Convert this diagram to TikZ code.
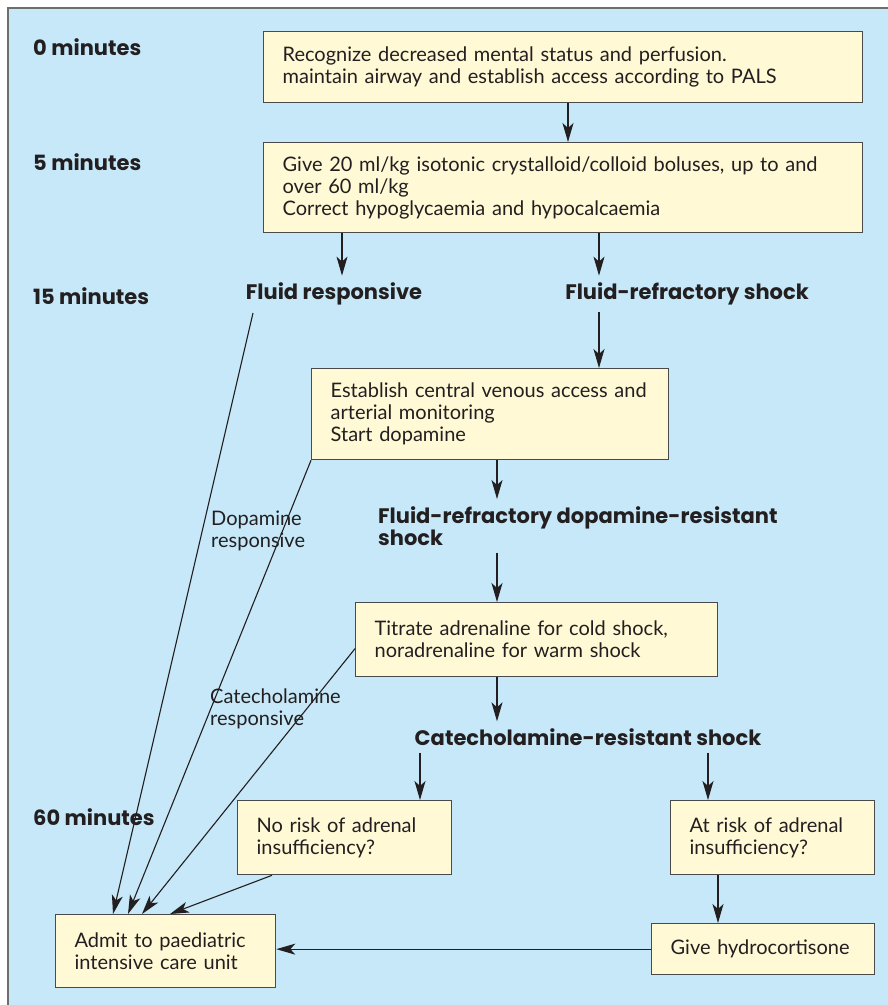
\documentclass[tikz,border=0pt]{standalone}
\usepackage{fontspec}
\setmainfont{Lato}
\newfontfamily\headfont{Poppins}
\usepackage{tikz}
\usetikzlibrary{arrows.meta}
\usetikzlibrary{calc}
\usepackage{xcolor}

\definecolor{bg}{HTML}{C6E8F8}
\definecolor{boxfill}{HTML}{FFF9D6}
\definecolor{boxline}{HTML}{4A4A4A}
\definecolor{ink}{HTML}{231F20}

\begin{document}
\begin{tikzpicture}[
  x=1pt, y=-1pt,
  font=\fontsize{20}{22}\selectfont,
  box/.style={draw=boxline, fill=boxfill, line width=1.3pt, anchor=north west, align=left, inner xsep=19pt, inner ysep=0pt, text=ink},
  head/.style={font=\headfont\bfseries\fontsize{21}{21}\selectfont, text=ink, inner xsep=0pt, inner ysep=7pt},
  time/.style={head, anchor=west},
  note/.style={align=left, anchor=north west, inner sep=0pt, text=ink},
  arrow/.style={-{Stealth[length=19pt, width=11pt, inset=5pt]}, line width=1.1pt, draw=ink},
  link/.style={line width=1.1pt, draw=ink}
]

% Background panel
\useasboundingbox (0,0) rectangle (888,1005);
\fill[bg] (8,8) rectangle (888,1005);
\draw[boxline!80, line width=1.6pt] (8,1005) -- (8,8) -- (888,8);

% Time line
\node[time] (t0) at (33,47) {0 minutes};
\node[time] (t5) at (33,162) {5 minutes};
\node[time] (t15) at (33,296) {15 minutes};
\node[time] (t60) at (33,817) {60 minutes};

% Boxes
\node[box, text width=561pt, minimum height=71pt] (rec) at (263,31) {Recognize decreased mental status and perfusion.\\maintain airway and establish access according to PALS};
\node[box, text width=561pt, minimum height=90pt] (give) at (263,142) {Give 20 ml/kg isotonic crystalloid/colloid boluses, up to and\\over 60 ml/kg\\Correct hypoglycaemia and hypocalcaemia};
\node[box, text width=319pt, minimum height=91pt] (est) at (311,368) {Establish central venous access and\\arterial monitoring\\Start dopamine};
\node[box, text width=324pt, minimum height=74pt] (titr) at (355,602) {Titrate adrenaline for cold shock,\\noradrenaline for warm shock};
\node[box, text width=176pt, minimum height=74pt] (norisk) at (237,800) {No risk of adrenal\\insufficiency?};
\node[box, text width=166pt, minimum height=74pt] (atrisk) at (670,800) {At risk of adrenal\\insufficiency?};
\node[box, text width=185pt, minimum height=51pt] (hydro) at (651,923) {Give hydrocortisone};
\node[box, text width=182pt, minimum height=73pt] (admit) at (55,914) {Admit to paediatric\\intensive care unit};

% Stages
\node[head] (fr) at (334,294) {Fluid responsive};
\node[head] (frs) at (687,294) {Fluid-refractory shock};
\node[head, anchor=north west, align=left] (dres) at (378,499) {Fluid-refractory dopamine-resistant\\shock};
\node[head] (cat) at (588,737) {Catecholamine-resistant shock};

% Side notes
\node[note] (dopok) at (211,511) {Dopamine\\responsive};
\node[note] (catok) at (210,689) {Catecholamine\\responsive};

% Columns for the vertical arrows
\coordinate (xa) at (568,0);
\coordinate (xb) at (342,0);
\coordinate (xc) at (599,0);
\coordinate (xd) at (497,0);
\coordinate (xe) at (420,0);
\coordinate (xf) at (708,0);
\coordinate (xg) at (718,0);

\draw[arrow] (rec.south -| xa) -- (give.north -| xa);
\draw[arrow] (give.south -| xb) -- (fr.north -| xb);
\draw[arrow] (give.south -| xc) -- (frs.north -| xc);
\draw[arrow] (frs.south -| xc) -- (est.north -| xc);
\draw[arrow] (est.south -| xd) -- (dres.north -| xd);
\draw[arrow] (dres.south -| xd) -- (titr.north -| xd);
\draw[arrow] (titr.south -| xd) -- (cat.north -| xd);
\draw[arrow] (cat.south -| xe) -- (norisk.north -| xe);
\draw[arrow] (cat.south -| xf) -- (atrisk.north -| xf);
\draw[arrow] (atrisk.south -| xg) -- (hydro.north -| xg);
\draw[arrow] (hydro.west) -- (hydro.west -| admit.east);

% Responders go to PICU
\coordinate (fr-foot) at (253,313);
\draw[arrow] (fr-foot) -- ($(admit.north west)+(58,0)$);
\draw[arrow] (est.south west) -- ($(admit.north west)+(73,0)$);
\draw[arrow] ($(titr.west)+(0,9)$) -- ($(admit.north west)+(87,0)$);
\draw[arrow] ($(norisk.south west)+(35,0)$) -- ($(admit.north west)+(115,0)$);

\end{tikzpicture}
\end{document}
